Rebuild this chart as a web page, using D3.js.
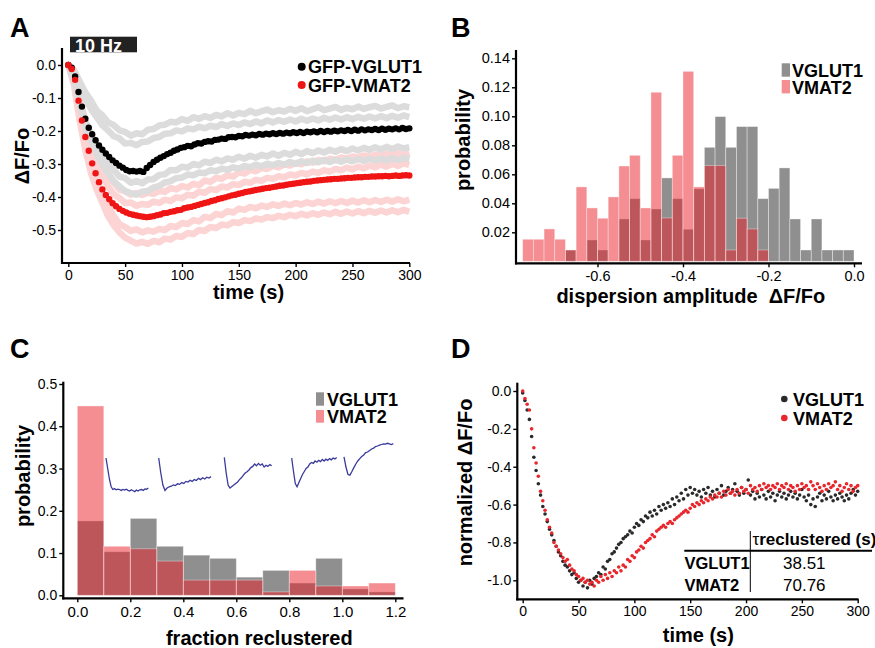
<!DOCTYPE html>
<html><head><meta charset="utf-8">
<script src="https://cdn.jsdelivr.net/npm/d3@7"></script>
<style>
body{margin:0;background:#fff}
text{font-family:"Liberation Sans",Arial,Helvetica,sans-serif}
</style></head><body>
<svg id="c" width="875" height="648"></svg>
<script>
// ---------- Panel A: ΔF/Fo time course (mean dots every 3 s, band traces every 5 s)
const tMean = d3.range(0, 301, 3);
const tBand = d3.range(0, 301, 5);
const vglutMeanA = [
0,-0.008,-0.035,-0.082,-0.126,-0.163,-0.19,-0.21,-0.228,-0.244,
-0.257,-0.268,-0.279,-0.289,-0.297,-0.305,-0.311,-0.318,-0.322,-0.321,
-0.323,-0.321,-0.324,-0.312,-0.303,-0.294,-0.287,-0.281,-0.276,-0.27,
-0.266,-0.26,-0.256,-0.251,-0.249,-0.245,-0.246,-0.241,-0.237,-0.238,
-0.233,-0.231,-0.232,-0.227,-0.226,-0.223,-0.224,-0.219,-0.218,-0.219,
-0.215,-0.216,-0.212,-0.214,-0.211,-0.213,-0.209,-0.211,-0.208,-0.21,
-0.207,-0.209,-0.206,-0.208,-0.205,-0.207,-0.204,-0.206,-0.203,-0.206,
-0.202,-0.204,-0.201,-0.204,-0.2,-0.203,-0.2,-0.202,-0.199,-0.201,
-0.198,-0.2,-0.197,-0.2,-0.196,-0.199,-0.195,-0.198,-0.195,-0.197,
-0.194,-0.197,-0.193,-0.196,-0.193,-0.195,-0.192,-0.195,-0.191,-0.194,
-0.192];
const vmatMeanA = [
0,-0.012,-0.045,-0.108,-0.168,-0.218,-0.26,-0.298,-0.328,-0.355,
-0.377,-0.394,-0.407,-0.419,-0.428,-0.436,-0.442,-0.447,-0.451,-0.454,
-0.456,-0.458,-0.46,-0.461,-0.46,-0.458,-0.455,-0.453,-0.449,-0.448,
-0.445,-0.443,-0.44,-0.439,-0.434,-0.432,-0.43,-0.427,-0.424,-0.421,
-0.418,-0.416,-0.412,-0.41,-0.406,-0.404,-0.401,-0.398,-0.395,-0.393,
-0.39,-0.388,-0.385,-0.383,-0.381,-0.379,-0.377,-0.375,-0.373,-0.372,
-0.37,-0.368,-0.366,-0.365,-0.363,-0.361,-0.36,-0.358,-0.357,-0.355,
-0.354,-0.353,-0.351,-0.35,-0.349,-0.348,-0.347,-0.346,-0.345,-0.345,
-0.344,-0.343,-0.342,-0.342,-0.341,-0.34,-0.34,-0.339,-0.339,-0.338,
-0.338,-0.337,-0.337,-0.336,-0.337,-0.336,-0.335,-0.336,-0.335,-0.334,
-0.335];
const vglutBandUp1 = [
0,-0.015,-0.05,-0.083,-0.108,-0.138,-0.152,-0.174,-0.182,-0.198,
-0.203,-0.214,-0.207,-0.21,-0.196,-0.194,-0.183,-0.181,-0.172,-0.174,
-0.164,-0.169,-0.158,-0.163,-0.155,-0.16,-0.151,-0.156,-0.146,-0.153,
-0.145,-0.149,-0.139,-0.146,-0.14,-0.135,-0.143,-0.137,-0.141,-0.133,
-0.139,-0.131,-0.14,-0.134,-0.128,-0.137,-0.132,-0.127,-0.136,-0.13,
-0.134,-0.126,-0.133,-0.128,-0.124,-0.132,-0.127,-0.122,-0.131,-0.125,
-0.128];
const vglutBandUp2 = [
0,-0.02,-0.062,-0.1,-0.133,-0.158,-0.183,-0.198,-0.216,-0.222,
-0.238,-0.236,-0.243,-0.233,-0.232,-0.221,-0.218,-0.208,-0.207,-0.198,
-0.201,-0.192,-0.195,-0.187,-0.192,-0.184,-0.188,-0.179,-0.185,-0.177,
-0.182,-0.174,-0.179,-0.171,-0.177,-0.168,-0.174,-0.167,-0.172,-0.165,
-0.171,-0.163,-0.169,-0.162,-0.168,-0.16,-0.166,-0.159,-0.165,-0.158,
-0.164,-0.157,-0.163,-0.156,-0.162,-0.155,-0.161,-0.154,-0.16,-0.153,
-0.158];
const vglutBandLo1 = [
0,-0.038,-0.108,-0.172,-0.208,-0.252,-0.276,-0.303,-0.318,-0.338,
-0.343,-0.357,-0.352,-0.358,-0.347,-0.346,-0.333,-0.331,-0.318,-0.319,
-0.308,-0.311,-0.3,-0.304,-0.293,-0.297,-0.287,-0.292,-0.283,-0.287,
-0.278,-0.284,-0.275,-0.281,-0.272,-0.277,-0.268,-0.275,-0.266,-0.272,
-0.263,-0.27,-0.261,-0.267,-0.259,-0.265,-0.257,-0.263,-0.255,-0.261,
-0.253,-0.259,-0.251,-0.257,-0.249,-0.256,-0.248,-0.255,-0.247,-0.253,
-0.249];
const vglutBandLo2 = [
0,-0.046,-0.12,-0.188,-0.232,-0.268,-0.302,-0.328,-0.352,-0.368,
-0.382,-0.388,-0.393,-0.384,-0.382,-0.371,-0.367,-0.356,-0.352,-0.343,
-0.341,-0.332,-0.334,-0.326,-0.328,-0.319,-0.322,-0.314,-0.318,-0.31,
-0.314,-0.306,-0.31,-0.302,-0.307,-0.299,-0.304,-0.297,-0.302,-0.294,
-0.299,-0.292,-0.297,-0.29,-0.295,-0.288,-0.294,-0.287,-0.293,-0.286,
-0.292,-0.285,-0.291,-0.284,-0.29,-0.283,-0.289,-0.282,-0.288,-0.281,
-0.286];
const vmatBandUp1 = [
0,-0.03,-0.098,-0.172,-0.218,-0.272,-0.306,-0.342,-0.357,-0.378,
-0.383,-0.393,-0.388,-0.394,-0.387,-0.39,-0.382,-0.384,-0.373,-0.377,
-0.367,-0.371,-0.36,-0.364,-0.35,-0.354,-0.342,-0.345,-0.334,-0.338,
-0.325,-0.329,-0.318,-0.322,-0.312,-0.315,-0.306,-0.31,-0.301,-0.305,
-0.297,-0.301,-0.292,-0.296,-0.288,-0.292,-0.284,-0.288,-0.28,-0.284,
-0.277,-0.281,-0.274,-0.278,-0.271,-0.276,-0.269,-0.274,-0.267,-0.272,
-0.266];
const vmatBandUp2 = [
0,-0.036,-0.112,-0.192,-0.252,-0.298,-0.342,-0.368,-0.392,-0.403,
-0.418,-0.417,-0.427,-0.421,-0.424,-0.414,-0.418,-0.408,-0.412,-0.401,
-0.404,-0.393,-0.396,-0.384,-0.387,-0.376,-0.379,-0.368,-0.371,-0.361,
-0.364,-0.354,-0.357,-0.348,-0.351,-0.342,-0.345,-0.337,-0.34,-0.332,
-0.335,-0.327,-0.331,-0.323,-0.327,-0.319,-0.323,-0.315,-0.319,-0.311,
-0.316,-0.308,-0.313,-0.305,-0.31,-0.302,-0.308,-0.3,-0.306,-0.298,
-0.303];
const vmatBandLo1 = [
0,-0.052,-0.148,-0.242,-0.298,-0.352,-0.388,-0.428,-0.457,-0.482,
-0.491,-0.503,-0.498,-0.507,-0.501,-0.505,-0.497,-0.5,-0.488,-0.491,
-0.479,-0.482,-0.47,-0.474,-0.46,-0.464,-0.451,-0.455,-0.443,-0.447,
-0.435,-0.439,-0.43,-0.434,-0.426,-0.43,-0.422,-0.427,-0.42,-0.425,
-0.418,-0.423,-0.416,-0.421,-0.414,-0.42,-0.413,-0.419,-0.412,-0.418,
-0.411,-0.417,-0.41,-0.416,-0.409,-0.415,-0.408,-0.414,-0.407,-0.413,
-0.408];
const vmatBandLo2 = [
0,-0.062,-0.168,-0.258,-0.328,-0.378,-0.418,-0.458,-0.486,-0.507,
-0.523,-0.532,-0.541,-0.536,-0.542,-0.533,-0.537,-0.526,-0.529,-0.518,
-0.521,-0.509,-0.512,-0.5,-0.503,-0.491,-0.494,-0.483,-0.486,-0.476,
-0.479,-0.47,-0.473,-0.465,-0.468,-0.461,-0.464,-0.457,-0.461,-0.454,
-0.458,-0.451,-0.456,-0.449,-0.454,-0.447,-0.452,-0.445,-0.451,-0.444,
-0.45,-0.443,-0.449,-0.442,-0.448,-0.441,-0.447,-0.44,-0.446,-0.439,
-0.445];
const ticksAx = [0, 50, 100, 150, 200, 250, 300];
const ticksAy = [0, -0.1, -0.2, -0.3, -0.4, -0.5];

// ---------- Panel B: dispersion amplitude histogram (bins of 0.025 from -0.775 to 0)
const binStartB = -0.775, binWidthB = 0.025;
const vglutB = [0,0,0,0,0.0078,0,0.0147,0.0078,0,0.0292,0.0432,0.0147,0.0361,0.0575,0.0432,0.0221,0.05,0.0786,0.0998,0.0786,0.0929,0.0929,0.0432,0.0503,0.0644,0.0292,0.0078,0.0292,0.0078,0.0078,0.0078];
const vmatB = [0.0152,0.0152,0.0223,0.0152,0.0078,0.0513,0.0368,0.0297,0.0444,0.0657,0.0731,0.0368,0.1166,0.0299,0.0731,0.131,0.0513,0.066,0.066,0.0078,0.0297,0.0223,0.0078,0,0,0,0,0,0,0,0];
const ticksBx = [-0.6, -0.4, -0.2, 0.0];
const ticksBy = [0.02, 0.04, 0.06, 0.08, 0.10, 0.12, 0.14];

// ---------- Panel C: fraction reclustered histogram (bins of 0.1)
const binWidthC = 0.1;
const vglutC = [0.176,0.103,0.182,0.116,0.095,0.0875,0.043,0.059,0.029,0.0875,0.015,0.008];
const vmatC = [0.448,0.116,0.110,0.081,0.036,0.036,0.036,0.008,0.059,0.022,0.022,0.029];
const ticksCx = [0, 0.2, 0.4, 0.6, 0.8, 1.0, 1.2];
const ticksCy = [0, 0.1, 0.2, 0.3, 0.4, 0.5];
// inset example traces (normalized ΔF, 26 samples each)
const insetTraces = [
 [0,-0.35,-0.7,-0.95,-1.05,-1.02,-1.06,-1.04,-1.05,-1.08,-1.05,-1.07,-1.04,-1.08,-1.1,-1.06,-1.09,-1.12,-1.07,-1.1,-1.06,-1.05,-1.08,-1.03,-1.04,-1.0],
 [0,-0.5,-0.9,-1.08,-1.0,-0.96,-0.94,-0.9,-0.92,-0.86,-0.88,-0.82,-0.85,-0.78,-0.8,-0.74,-0.78,-0.72,-0.75,-0.68,-0.72,-0.66,-0.7,-0.64,-0.67,-0.62],
 [0.02,-0.5,-0.9,-1.0,-0.95,-0.9,-0.85,-0.8,-0.72,-0.66,-0.58,-0.5,-0.46,-0.4,-0.32,-0.28,-0.2,-0.26,-0.18,-0.24,-0.2,-0.3,-0.24,-0.28,-0.22,-0.26],
 [0,-0.45,-0.85,-0.96,-0.82,-0.68,-0.55,-0.45,-0.35,-0.3,-0.2,-0.15,-0.18,-0.1,-0.14,-0.08,-0.12,-0.05,-0.1,-0.04,-0.08,-0.02,-0.06,0.0,-0.03,0.02],
 [0.04,-0.3,-0.55,-0.57,-0.45,-0.32,-0.2,-0.1,-0.02,0.05,0.1,0.18,0.2,0.25,0.3,0.33,0.38,0.4,0.43,0.45,0.47,0.46,0.49,0.47,0.45,0.48]
];

// ---------- Panel D: normalized ΔF/Fo (every 2 s)
const tNorm = d3.range(0, 301, 2);
const vglutD = [
-0.01,-0.05,-0.1,-0.15,-0.24,-0.35,-0.42,-0.49,-0.55,-0.61,
-0.65,-0.69,-0.73,-0.76,-0.79,-0.82,-0.85,-0.87,-0.9,-0.92,
-0.93,-0.95,-0.97,-0.96,-0.99,-1.01,-1.0,-1.03,-1.01,-1.04,
-1.0,-1.02,-0.99,-0.98,-0.96,-0.97,-0.93,-0.94,-0.9,-0.89,
-0.86,-0.85,-0.83,-0.81,-0.8,-0.78,-0.77,-0.76,-0.74,-0.75,
-0.72,-0.7,-0.71,-0.68,-0.69,-0.66,-0.67,-0.64,-0.66,-0.63,
-0.65,-0.61,-0.63,-0.6,-0.62,-0.59,-0.61,-0.57,-0.6,-0.56,
-0.58,-0.54,-0.57,-0.52,-0.55,-0.51,-0.54,-0.52,-0.55,-0.53,
-0.56,-0.52,-0.54,-0.51,-0.55,-0.53,-0.56,-0.52,-0.54,-0.5,
-0.55,-0.53,-0.51,-0.54,-0.52,-0.49,-0.53,-0.55,-0.51,-0.54,
-0.52,-0.47,-0.55,-0.53,-0.57,-0.54,-0.56,-0.52,-0.55,-0.57,
-0.53,-0.56,-0.54,-0.58,-0.55,-0.53,-0.56,-0.54,-0.57,-0.55,
-0.53,-0.56,-0.54,-0.57,-0.55,-0.52,-0.56,-0.58,-0.55,-0.6,
-0.57,-0.61,-0.56,-0.54,-0.58,-0.55,-0.57,-0.53,-0.56,-0.58,
-0.55,-0.57,-0.54,-0.56,-0.58,-0.55,-0.57,-0.54,-0.52,-0.55,
-0.53];
const vmatD = [
0,-0.04,-0.07,-0.1,-0.2,-0.3,-0.38,-0.45,-0.53,-0.58,
-0.63,-0.68,-0.72,-0.75,-0.8,-0.82,-0.84,-0.86,-0.88,-0.9,
-0.89,-0.92,-0.94,-0.95,-0.97,-0.98,-1.0,-0.99,-1.01,-1.0,
-1.02,-1.01,-1.03,-1.0,-1.01,-0.98,-1.0,-0.97,-0.99,-0.96,
-0.98,-0.95,-0.96,-0.93,-0.95,-0.92,-0.93,-0.89,-0.9,-0.87,
-0.88,-0.85,-0.84,-0.82,-0.83,-0.8,-0.79,-0.78,-0.76,-0.77,
-0.74,-0.73,-0.72,-0.71,-0.72,-0.7,-0.69,-0.7,-0.68,-0.67,
-0.66,-0.65,-0.64,-0.63,-0.64,-0.62,-0.6,-0.61,-0.59,-0.6,
-0.58,-0.59,-0.57,-0.58,-0.56,-0.57,-0.55,-0.56,-0.54,-0.56,
-0.53,-0.55,-0.52,-0.54,-0.53,-0.55,-0.52,-0.54,-0.51,-0.53,
-0.52,-0.54,-0.5,-0.52,-0.51,-0.53,-0.5,-0.52,-0.49,-0.51,
-0.5,-0.52,-0.5,-0.51,-0.49,-0.52,-0.5,-0.51,-0.49,-0.52,
-0.5,-0.51,-0.53,-0.5,-0.52,-0.49,-0.51,-0.5,-0.52,-0.48,
-0.5,-0.52,-0.49,-0.51,-0.53,-0.5,-0.52,-0.49,-0.51,-0.5,
-0.48,-0.52,-0.5,-0.53,-0.51,-0.49,-0.52,-0.5,-0.53,-0.51,
-0.5];
const ticksDx = [0, 50, 100, 150, 200, 250, 300];
const ticksDy = [0, -0.2, -0.4, -0.6, -0.8, -1.0];
const tauRows = ["VGLUT1", "VMAT2"];
const tauValues = ["38.51", "70.76"];

// ---------- drawing
const svg = d3.select("#c");
const GRAY = "#8f8f8f", RED = "rgb(233,29,37)", PINK = "#f48e92";

function axisLine(x1, y1, x2, y2) {
  svg.append("line").attr("x1", x1).attr("y1", y1).attr("x2", x2).attr("y2", y2)
    .attr("stroke", "#000").attr("stroke-width", 2.2);
}
function styleAxis(g, fs) {
  g.select(".domain").remove();
  g.selectAll(".tick line").attr("stroke", "#000").attr("stroke-width", 1.4);
  g.selectAll(".tick text").attr("fill", "#000").attr("font-size", fs)
    .attr("font-family", '"Liberation Sans",Arial,sans-serif');
}
function label(x, y, txt, opts) {
  const o = Object.assign({size: 20, weight: "bold", anchor: "middle", rot: 0, fill: "#000"}, opts || {});
  return svg.append("text").attr("transform", `translate(${x},${y}) rotate(${o.rot})`)
    .attr("text-anchor", o.anchor).attr("font-size", o.size).attr("font-weight", o.weight)
    .attr("fill", o.fill).style("white-space", "pre").text(txt);
}

// ===== Panel A
const xA = d3.scaleLinear().domain([0, 300]).range([68.3, 409.3]);
const yA = d3.scaleLinear().domain([0, -0.5]).range([65, 230]);
const bandLine = d3.line().x((d, i) => xA(tBand[i])).y(d => yA(d));
[vmatBandUp1, vmatBandUp2, vmatBandLo1, vmatBandLo2].forEach(b =>
  svg.append("path").attr("d", bandLine(b)).attr("fill", "none")
    .attr("stroke", "#fdd4d4").attr("stroke-width", 6.5).attr("stroke-linejoin", "round"));
[vglutBandUp1, vglutBandUp2, vglutBandLo1, vglutBandLo2].forEach(b =>
  svg.append("path").attr("d", bandLine(b)).attr("fill", "none")
    .attr("stroke", "#dcdcdc").attr("stroke-width", 6.5).attr("stroke-linejoin", "round"));
svg.append("g").selectAll("circle").data(vglutMeanA).join("circle")
  .attr("cx", (d, i) => xA(tMean[i])).attr("cy", d => yA(d)).attr("r", 3.2).attr("fill", "#000");
svg.append("g").selectAll("circle").data(vmatMeanA).join("circle")
  .attr("cx", (d, i) => xA(tMean[i])).attr("cy", d => yA(d)).attr("r", 3.2).attr("fill", "#f01515");

axisLine(62, 48, 62, 264);
axisLine(61, 263, 410, 263);
styleAxis(svg.append("g").attr("transform", "translate(62,0)")
  .call(d3.axisLeft(yA).tickValues(ticksAy).tickSize(4).tickPadding(2).tickFormat(d => d.toFixed(1))), 14);
styleAxis(svg.append("g").attr("transform", "translate(0,263)")
  .call(d3.axisBottom(xA).tickValues(ticksAx).tickSize(4).tickPadding(3).tickFormat(d => d)), 14);
svg.append("rect").attr("x", 70).attr("y", 36.7).attr("width", 67).attr("height", 15.6).attr("fill", "#222");
label(75, 51.5, "10 Hz", {size: 18, anchor: "start", fill: "#fff"});
svg.append("circle").attr("cx", 301.7).attr("cy", 66.7).attr("r", 4).attr("fill", "#000");
label(308, 73, "GFP-VGLUT1", {size: 18, anchor: "start"});
svg.append("circle").attr("cx", 301.7).attr("cy", 85).attr("r", 4).attr("fill", "#f01515");
label(308, 92, "GFP-VMAT2", {size: 18, anchor: "start"});
label(248.5, 299, "time (s)");
label(28.5, 156, "ΔF/Fo", {rot: -90});
label(10, 37, "A", {size: 27, anchor: "start"});

// ===== Panel B
const xB = d3.scaleLinear().domain([-0.6, 0]).range([597.5, 854]);
const yB = d3.scaleLinear().domain([0, 0.14]).range([261.3, 58.3]);
function bars(values, x, y, start, w, fill, op) {
  svg.append("g").selectAll("rect").data(values).join("rect")
    .attr("x", (d, i) => x(start + i * w)).attr("width", (d, i) => x(start + (i + 1) * w) - x(start + i * w))
    .attr("y", d => y(d)).attr("height", d => y(0) - y(d))
    .attr("fill", fill).attr("fill-opacity", op)
    .attr("stroke", "#fff").attr("stroke-opacity", 0.45).attr("stroke-width", 0.8);
}
bars(vglutB, xB, yB, binStartB, binWidthB, GRAY, 1);
bars(vmatB, xB, yB, binStartB, binWidthB, RED, 0.5);
axisLine(516, 50, 516, 264.4);
axisLine(515, 263.3, 862, 263.3);
styleAxis(svg.append("g").attr("transform", "translate(516,0)")
  .call(d3.axisLeft(yB).tickValues(ticksBy).tickSize(4).tickPadding(2).tickFormat(d => d.toFixed(2))), 14.5);
styleAxis(svg.append("g").attr("transform", "translate(0,263.3)")
  .call(d3.axisBottom(xB).tickValues(ticksBx).tickSize(4).tickPadding(3).tickFormat(d => d.toFixed(1))), 14.5);
svg.append("rect").attr("x", 781.7).attr("y", 63.3).attr("width", 8.3).attr("height", 13.4).attr("fill", GRAY);
label(792, 76.5, "VGLUT1", {size: 18, anchor: "start"});
svg.append("rect").attr("x", 781.7).attr("y", 80).attr("width", 8.3).attr("height", 13.4).attr("fill", PINK);
label(792, 93.5, "VMAT2", {size: 18, anchor: "start"});
label(690.8, 302.5, "dispersion amplitude  ΔF/Fo");
label(470, 140, "probability", {rot: -90});
label(451, 37, "B", {size: 27, anchor: "start"});

// ===== Panel C
const xC = d3.scaleLinear().domain([0, 1.2]).range([77.3, 395.3]);
const yC = d3.scaleLinear().domain([0, 0.5]).range([595.3, 384]);
bars(vglutC, xC, yC, 0, binWidthC, GRAY, 1);
bars(vmatC, xC, yC, 0, binWidthC, RED, 0.5);
axisLine(63.3, 381.7, 63.3, 599.4);
axisLine(62.2, 598.3, 403.5, 598.3);
styleAxis(svg.append("g").attr("transform", "translate(63.3,0)")
  .call(d3.axisLeft(yC).tickValues(ticksCy).tickSize(4).tickPadding(2).tickFormat(d => d.toFixed(1))), 14);
styleAxis(svg.append("g").attr("transform", "translate(0,598.3)")
  .call(d3.axisBottom(xC).tickValues(ticksCx).tickSize(4).tickPadding(4).tickFormat(d => d.toFixed(1))), 15);
// inset traces
const insetX = [[106, 148.3], [158.7, 211], [224.3, 271.7], [291.7, 336.7], [344, 393.3]];
const yIns = d3.scaleLinear().domain([0, -1]).range([458, 488]);
insetTraces.forEach((tr, k) => {
  const xs = d3.scaleLinear().domain([0, tr.length - 1]).range(insetX[k]);
  svg.append("path").attr("d", d3.line().x((d, i) => xs(i)).y(d => yIns(d))(tr))
    .attr("fill", "none").attr("stroke", "#3a3a9c").attr("stroke-width", 1.3);
});
svg.append("rect").attr("x", 316).attr("y", 392.3).attr("width", 8).attr("height", 13.4).attr("fill", GRAY);
label(327, 405.5, "VGLUT1", {size: 18, anchor: "start"});
svg.append("rect").attr("x", 316).attr("y", 410).attr("width", 8).attr("height", 12.7).attr("fill", PINK);
label(327, 423, "VMAT2", {size: 18, anchor: "start"});
label(259.3, 644.5, "fraction reclustered");
label(30, 476, "probability", {rot: -90});
label(10, 358, "C", {size: 27, anchor: "start"});

// ===== Panel D
const xD = d3.scaleLinear().domain([0, 300]).range([522.7, 857.7]);
const yD = d3.scaleLinear().domain([0, -1]).range([391, 580.3]);
svg.append("g").selectAll("circle").data(vglutD).join("circle")
  .attr("cx", (d, i) => xD(tNorm[i])).attr("cy", d => yD(d)).attr("r", 1.8).attr("fill", "#2a2a2a");
svg.append("g").selectAll("circle").data(vmatD).join("circle")
  .attr("cx", (d, i) => xD(tNorm[i])).attr("cy", d => yD(d)).attr("r", 1.8).attr("fill", "#e8262b");
axisLine(517.3, 382.7, 517.3, 600.4);
axisLine(516.2, 599.3, 858.5, 599.3);
styleAxis(svg.append("g").attr("transform", "translate(517.3,0)")
  .call(d3.axisLeft(yD).tickValues(ticksDy).tickSize(4).tickPadding(2).tickFormat(d => d.toFixed(1))), 14);
styleAxis(svg.append("g").attr("transform", "translate(0,599.3)")
  .call(d3.axisBottom(xD).tickValues(ticksDx).tickSize(4).tickPadding(3).tickFormat(d => d)), 14);
svg.append("circle").attr("cx", 784.3).attr("cy", 399).attr("r", 3.3).attr("fill", "#2a2a2a");
label(793, 405.5, "VGLUT1", {size: 18, anchor: "start"});
svg.append("circle").attr("cx", 784.3).attr("cy", 418).attr("r", 3.3).attr("fill", "#e8262b");
label(793, 424.5, "VMAT2", {size: 18, anchor: "start"});
// table
svg.append("line").attr("x1", 684.3).attr("x2", 872).attr("y1", 550.7).attr("y2", 550.7).attr("stroke", "#000").attr("stroke-width", 2);
svg.append("line").attr("x1", 750.3).attr("x2", 750.3).attr("y1", 531).attr("y2", 592).attr("stroke", "#000").attr("stroke-width", 1);
const hdr = svg.append("text").attr("x", 752.5).attr("y", 545).attr("font-size", 17).attr("font-weight", "bold");
hdr.append("tspan").attr("font-weight", "normal").text("τ");
hdr.append("tspan").text("reclustered (s)");
tauRows.forEach((r, i) => {
  label(684.5, 569 + i * 21.5, r, {size: 16.5, anchor: "start"});
  label(804.3, 569 + i * 21.5, tauValues[i], {size: 17, weight: "normal"});
});
label(698.3, 641.5, "time (s)");
label(471.5, 482.5, "normalized ΔF/Fo", {rot: -90});
label(451, 358, "D", {size: 27, anchor: "start"});
</script></body></html>
